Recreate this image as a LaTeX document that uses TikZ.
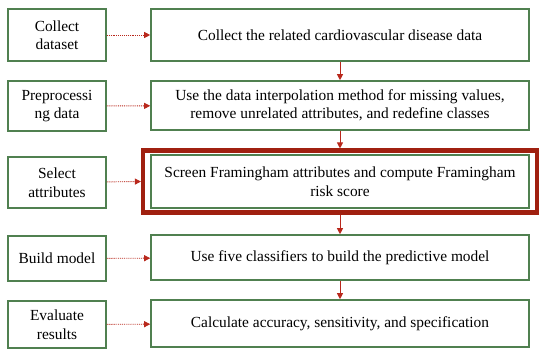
\documentclass[tikz,border=0pt]{standalone}
\usepackage{fontspec}
\setmainfont{Liberation Serif}
\usepackage{tikz}
\usetikzlibrary{positioning, fit, arrows.meta}

\definecolor{boxgreen}{RGB}{80,128,80}
\definecolor{framered}{RGB}{160,32,16}
\definecolor{arrowred}{RGB}{185,40,28}

\begin{document}
\begin{tikzpicture}[x=1pt, y=-1pt,
        leftbox/.style={draw=boxgreen, line width=1.6pt, fill=white, minimum width=98pt,
            align=center, inner sep=2pt, font=\fontsize{15.4}{18.5}\selectfont},
        rightbox/.style={draw=boxgreen, line width=1.6pt, fill=white, minimum width=378pt,
            align=center, inner sep=2pt, font=\fontsize{15.4}{18.5}\selectfont},
        redframe/.style={draw=framered, line width=4.5pt, inner xsep=7pt, inner ysep=3.5pt},
        dotarrow/.style={arrowred, densely dotted, line width=0.9pt, -{Triangle[length=6pt, width=6pt]}},
        downarrow/.style={arrowred, line width=1pt, -{Triangle[length=6pt, width=6pt]}}
    ]

    \useasboundingbox (0,0) rectangle (550,357);

    % steps on the left
    \node[leftbox, minimum height=52pt] (ds)  at (57,35)    {Collect\\ dataset};
    \node[leftbox, minimum height=50pt] (pre) at (57,106)   {Preprocessi\\ ng data};
    \node[leftbox, minimum height=51pt] (sel) at (57,182.5) {Select\\ attributes};
    \node[leftbox, minimum height=45pt] (bm)  at (57,258.5) {Build model};
    \node[leftbox, minimum height=47pt] (ev)  at (57,324.5) {Evaluate\\ results};

    % what is done in each step
    \node[rightbox, minimum height=52pt] (collect) at (340,35)    {Collect the related cardiovascular disease data};
    \node[rightbox, minimum height=49pt] (interp)  at (340,105.5) {Use the data interpolation method for missing values,\\ remove unrelated attributes, and redefine classes};
    \node[rightbox, minimum height=53pt] (screen)  at (340,181.5) {Screen Framingham attributes and compute Framingham\\ risk score};
    \node[rightbox, minimum height=45pt] (classif) at (340,257.5) {Use five classifiers to build the predictive model};
    \node[rightbox, minimum height=47pt] (calc)    at (340,323.5) {Calculate accuracy, sensitivity, and specification};

    \node[redframe, fit=(screen)] (frame) {};

    \draw[dotarrow] (ds)  -- (collect);
    \draw[dotarrow] (pre) -- (interp);
    \draw[dotarrow] (sel) -- (frame.west);
    \draw[dotarrow] (bm)  -- (classif);
    \draw[dotarrow] (ev)  -- (calc);

    \draw[downarrow] (collect) -- (interp);
    \draw[downarrow] (interp)  -- (frame);
    \draw[downarrow] (frame)   -- (classif);
    \draw[downarrow] (classif) -- (calc);

\end{tikzpicture}
\end{document}
